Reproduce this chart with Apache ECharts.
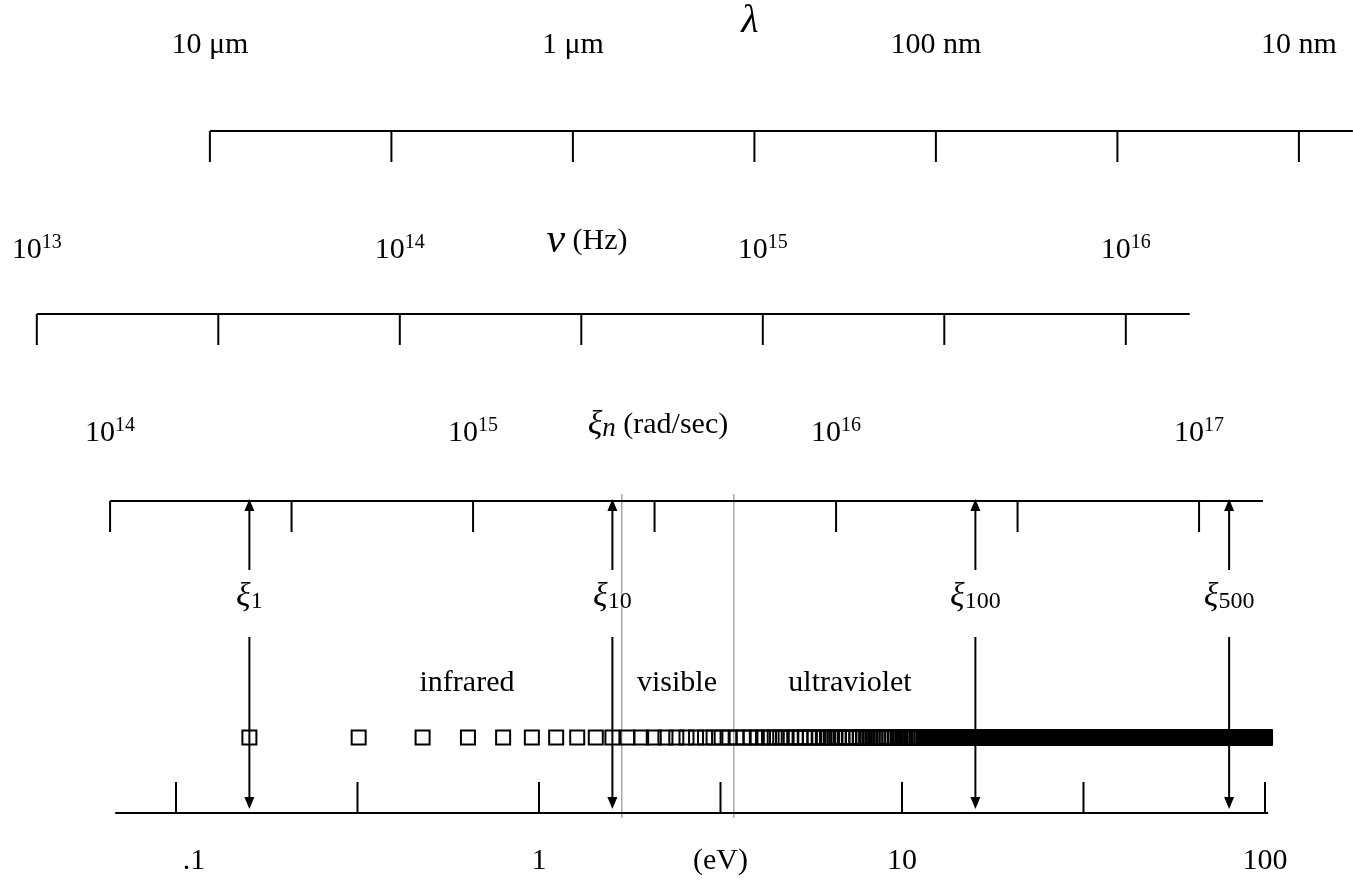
<!DOCTYPE html>
<html>
<head>
<meta charset="utf-8">
<script src="https://cdn.jsdelivr.net/npm/echarts@6/dist/echarts.min.js"></script>
<style>
  html, body { margin: 0; padding: 0; background: #fff; }
  #chart { width: 1353px; height: 883px; }
</style>
</head>
<body>
<div id="chart"></div>
<script>
// Physical constants used to place every scale on a common photon-energy axis (eV)
const HC = 1.23984e-6;      // eV·m
const H = 4.135668e-15;     // eV·s
const HBAR = 6.582120e-16;  // eV·s

// Wavelength scale (metres), half-decade ticks
const lambdaTicks = [1e-5, 3.162e-6, 1e-6, 3.162e-7, 1e-7, 3.162e-8, 1e-8];
const lambdaLabels = ['10 μm', '', '1 μm', '', '100 nm', '', '10 nm'];
const lambdaSpan = [1e-5, 7.1e-9];

// Frequency scale (Hz)
const nuTicks = [1e13, 3.162e13, 1e14, 3.162e14, 1e15, 3.162e15, 1e16];
const nuExponents = ['13', '', '14', '', '15', '', '16'];
const nuSpan = [1e13, 1.5e16];

// Angular frequency scale (rad/sec)
const xiTicks = [1e14, 3.162e14, 1e15, 3.162e15, 1e16, 3.162e16, 1e17];
const xiExponents = ['14', '', '15', '', '16', '', '17'];
const xiSpan = [1e14, 1.5e17];

// Photon energy scale (eV)
const eVTicks = [0.1, 0.3162, 1, 3.162, 10, 31.62, 100];
const eVLabels = ['.1', '', '1', '(eV)', '10', '', '100'];
const eVSpan = [0.068, 102];

// Matsubara frequencies xi_n = n * xi_1 (rad/sec), up to 100 eV
const xi1 = 2.42e14;
const nMax = 628;
const markedN = [1, 10, 100, 500];

// Visible band edges (eV)
const visibleEdges = [1.69, 3.44];

const SERIF = '"Liberation Serif", "Times New Roman", serif';
const lg = Math.log10;
const eVofLambda = m => HC / m;
const eVofNu = f => H * f;
const eVofXi = w => HBAR * w;

const rich = {
  t: { fontFamily: SERIF, fontSize: 30, lineHeight: 34, color: '#000' },
  sup: { fontFamily: SERIF, fontSize: 20, lineHeight: 19, verticalAlign: 'top', color: '#000' },
  g: { fontFamily: SERIF, fontSize: 34, fontStyle: 'italic', lineHeight: 34, color: '#000' },
  gv: { fontFamily: SERIF, fontSize: 42, fontStyle: 'italic', lineHeight: 34, color: '#000' },
  gi: { fontFamily: SERIF, fontSize: 27, fontStyle: 'italic', lineHeight: 10, verticalAlign: 'bottom', color: '#000' },
  sub: { fontFamily: SERIF, fontSize: 24, lineHeight: 11, verticalAlign: 'bottom', color: '#000' }
};

const pow10 = e => e ? `{t|10}{sup|${e}}` : '';
const plain = s => s ? `{t|${s}}` : '';

// Layout of the four scales (row of the axis line, tick direction, label row)
const scales = [
  { ticks: lambdaTicks.map(eVofLambda), span: lambdaSpan.map(eVofLambda), lineY: 131, dir: 1, labelY: 45,
    labels: lambdaLabels.map(plain), shift: [0, 0, 0, 0, 0, 0, 0] },
  { ticks: nuTicks.map(eVofNu), span: nuSpan.map(eVofNu), lineY: 314, dir: 1, labelY: 250,
    labels: nuExponents.map(pow10), shift: [0, 0, 0, 0, 0, 0, 0] },
  { ticks: xiTicks.map(eVofXi), span: xiSpan.map(eVofXi), lineY: 501, dir: 1, labelY: 433,
    labels: xiExponents.map(pow10), shift: [0, 0, 0, 0, 0, 0, 0] },
  { ticks: eVTicks, span: eVSpan, lineY: 813, dir: -1, labelY: 861,
    labels: eVLabels.map(plain), shift: [18, 0, 0, 0, 0, 0, 0] }
];
const TICK_LEN = 31;

const baselineData = scales.map(s => [lg(s.span[0]), lg(s.span[1]), s.lineY]);
const tickData = [];
const labelData = [];
const labelText = [];
scales.forEach(s => {
  s.ticks.forEach((e, i) => {
    tickData.push([lg(e), s.lineY, s.lineY + s.dir * TICK_LEN]);
    if (s.labels[i]) {
      labelData.push([lg(e), s.labelY, s.shift[i]]);
      labelText.push(s.labels[i]);
    }
  });
});

const squareData = [];
for (let n = 1; n <= nMax; n++) squareData.push([lg(eVofXi(n * xi1)), 737.5]);

const arrowData = markedN.map(n => [lg(eVofXi(n * xi1)), n]);
const edgeData = visibleEdges.map(e => [lg(e)]);

const black = '#000';

const chart = echarts.init(document.getElementById('chart'), null, { renderer: 'canvas' });
chart.setOption({
  animation: false,
  backgroundColor: '#fff',
  grid: { left: 0, right: 0, top: 0, bottom: 0, containLabel: false },
  xAxis: { type: 'value', min: -1.484848, max: 2.242424, show: false },
  yAxis: { type: 'value', min: 0, max: 883, inverse: true, show: false },
  graphic: [
    { type: 'text', x: 750, y: 21, silent: true,
      style: { text: 'λ', font: 'italic 40px ' + SERIF, fill: black, align: 'center', verticalAlign: 'middle' } },
    { type: 'text', x: 587, y: 241, silent: true,
      style: { text: '{gv|ν}{t| (Hz)}', rich: rich, align: 'center', verticalAlign: 'middle' } },
    { type: 'text', x: 658, y: 425, silent: true,
      style: { text: '{g|ξ}{gi|n}{t| (rad/sec)}', rich: rich, align: 'center', verticalAlign: 'middle' } },
    { type: 'text', x: 467, y: 683, silent: true,
      style: { text: 'infrared', font: '30px ' + SERIF, fill: black, align: 'center', verticalAlign: 'middle' } },
    { type: 'text', x: 677, y: 683, silent: true,
      style: { text: 'visible', font: '30px ' + SERIF, fill: black, align: 'center', verticalAlign: 'middle' } },
    { type: 'text', x: 850, y: 683, silent: true,
      style: { text: 'ultraviolet', font: '30px ' + SERIF, fill: black, align: 'center', verticalAlign: 'middle' } }
  ],
  series: [
    {
      // visible band edges
      type: 'custom', silent: true, z: 1,
      data: edgeData,
      encode: { x: 0 },
      renderItem: (p, api) => {
        const a = api.coord([api.value(0), 494]);
        const b = api.coord([api.value(0), 818]);
        return { type: 'line', shape: { x1: a[0], y1: a[1], x2: b[0], y2: b[1] },
          style: { stroke: '#aaaaaa', lineWidth: 1.5 } };
      }
    },
    {
      // axis base lines
      type: 'custom', silent: true, z: 3,
      data: baselineData,
      encode: { x: [0, 1], y: 2 },
      renderItem: (p, api) => {
        const a = api.coord([api.value(0), api.value(2)]);
        const b = api.coord([api.value(1), api.value(2)]);
        return { type: 'line', shape: { x1: a[0], y1: a[1], x2: b[0], y2: b[1] },
          style: { stroke: black, lineWidth: 2 } };
      }
    },
    {
      // ticks
      type: 'custom', silent: true, z: 3,
      data: tickData,
      encode: { x: 0, y: [1, 2] },
      renderItem: (p, api) => {
        const a = api.coord([api.value(0), api.value(1)]);
        const b = api.coord([api.value(0), api.value(2)]);
        return { type: 'line', shape: { x1: a[0], y1: a[1], x2: b[0], y2: b[1] },
          style: { stroke: black, lineWidth: 2 } };
      }
    },
    {
      // tick labels
      type: 'custom', silent: true, z: 4,
      data: labelData,
      encode: { x: 0, y: 1 },
      renderItem: (p, api) => {
        const c = api.coord([api.value(0), api.value(1)]);
        return { type: 'text', x: c[0] + api.value(2), y: c[1],
          style: { text: labelText[p.dataIndex], rich: rich, align: 'center', verticalAlign: 'middle' } };
      }
    },
    {
      // xi_n markers
      type: 'scatter', silent: true, z: 2,
      data: squareData,
      symbol: 'rect', symbolSize: 14,
      itemStyle: { color: 'rgba(0,0,0,0)', borderColor: black, borderWidth: 2, opacity: 1 }
    },
    {
      // arrows linking xi_n on the rad/sec scale to the eV scale
      type: 'custom', silent: true, z: 5,
      data: arrowData,
      encode: { x: 0 },
      renderItem: (p, api) => {
        const x = api.value(0);
        const n = api.value(1);
        const top = api.coord([x, 499]);
        const upEnd = api.coord([x, 570]);
        const downStart = api.coord([x, 637]);
        const tip = api.coord([x, 809]);
        const lab = api.coord([x, 597]);
        const cx = top[0], hw = 5, hh = 12;
        return {
          type: 'group',
          children: [
            { type: 'line', shape: { x1: cx, y1: top[1] + hh - 1, x2: cx, y2: upEnd[1] }, style: { stroke: black, lineWidth: 2 } },
            { type: 'polygon', shape: { points: [[cx, top[1]], [cx - hw, top[1] + hh], [cx + hw, top[1] + hh]] }, style: { fill: black } },
            { type: 'line', shape: { x1: cx, y1: downStart[1], x2: cx, y2: tip[1] - hh + 1 }, style: { stroke: black, lineWidth: 2 } },
            { type: 'polygon', shape: { points: [[cx, tip[1]], [cx - hw, tip[1] - hh], [cx + hw, tip[1] - hh]] }, style: { fill: black } },
            { type: 'text', x: lab[0], y: lab[1],
              style: { text: '{g|ξ}{sub|' + n + '}', rich: rich, align: 'center', verticalAlign: 'middle' } }
          ]
        };
      }
    }
  ]
});
</script>
</body>
</html>
